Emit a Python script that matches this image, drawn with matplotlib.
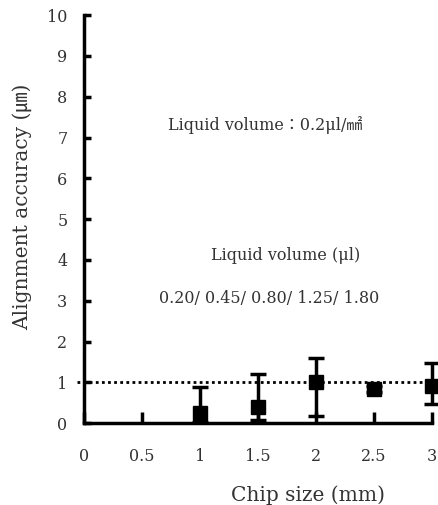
import matplotlib
matplotlib.use('Agg')
import matplotlib.pyplot as plt

plt.rcParams['font.family'] = ['DejaVu Serif', 'Noto Sans CJK KR', 'DejaVu Sans']

chip_size = [1, 1.5, 2, 2.5, 3]
accuracy = [0.25, 0.40, 1.01, 0.83, 0.90]
err_low = [0.22, 0.31, 0.84, 0.07, 0.44]
err_high = [0.63, 0.80, 0.59, 0.07, 0.58]
target = 1.0
volumes = '0.20/ 0.45/ 0.80/ 1.25/ 1.80'

fig = plt.figure(figsize=(4.38, 5.05), dpi=100)
ax = fig.add_axes([0.192, 0.162, 0.794, 0.808])

ax.axhline(target, xmin=-0.02, xmax=1.0, color='black', linestyle=(0, (1, 1.2)),
           linewidth=2, clip_on=False, zorder=1)
ax.errorbar(chip_size, accuracy, yerr=[err_low, err_high], fmt='s', color='black',
            markersize=9.5, elinewidth=2.5, capsize=5.5, capthick=2.5, clip_on=False, zorder=3)

ax.set_xlim(0, 3)
ax.set_ylim(0, 10)
ax.set_xticks([0, 0.5, 1, 1.5, 2, 2.5, 3])
ax.set_xticklabels(['0', '0.5', '1', '1.5', '2', '2.5', '3'])
ax.set_yticks(range(0, 11))
for s in ['top', 'right']:
    ax.spines[s].set_visible(False)
for s in ['left', 'bottom']:
    ax.spines[s].set_linewidth(2.5)
ax.tick_params(axis='x', direction='in', length=8, width=2.5, pad=18, labelsize=11.5, labelcolor='#333333')
ax.tick_params(axis='y', direction='in', length=5, width=2.5, pad=12, labelsize=11.5, labelcolor='#333333')

ax.set_ylabel('Alignment accuracy (㎛)', fontsize=14.5, color='#333333')
ax.yaxis.set_label_coords(-0.15, 0.53)
ax.set_xlabel('Chip size (mm)', fontsize=14.5, color='#333333')
ax.xaxis.set_label_coords(0.644, -0.152)

ax.text(1.56, 7.3, 'Liquid volume：0.2μl/㎟', fontsize=11.5, color='#333333', ha='center', va='center')
ax.text(1.74, 4.1, 'Liquid volume (μl)', fontsize=11.5, color='#333333', ha='center', va='center')
ax.text(1.6, 3.05, volumes, fontsize=11.5, color='#333333', ha='center', va='center')

plt.savefig('out.png', dpi=100)
